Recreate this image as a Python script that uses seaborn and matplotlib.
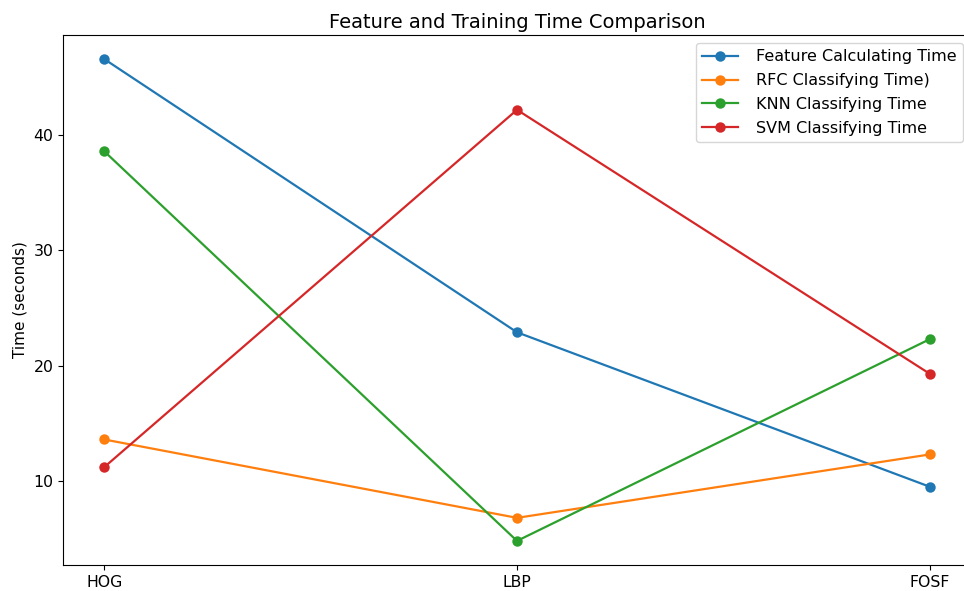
import matplotlib
matplotlib.use("Agg")
import matplotlib.pyplot as plt
import seaborn as sns
import pandas as pd

methods = ["HOG", "LBP", "FOSF"]
feature_time = [46.6, 22.9, 9.5]
rfc_time = [13.6, 6.8, 12.3]
knn_time = [38.6, 4.8, 22.3]
svm_time = [11.2, 42.2, 19.3]
series_names = ["Feature Calculating Time", "RFC Classifying Time)",
                "KNN Classifying Time", "SVM Classifying Time"]
colors = ["#1f77b4", "#ff7f0e", "#2ca02c", "#d62728"]

rows = []
for name, vals in zip(series_names, [feature_time, rfc_time, knn_time, svm_time]):
    for m, v in zip(methods, vals):
        rows.append({"Method": m, "Time": v, "Series": name})
df = pd.DataFrame(rows)

W, H = 964, 591
fig = plt.figure(figsize=(W / 100, H / 100), dpi=100)
ax = fig.add_axes([63 / W, (H - 565) / H, (971 - 63) / W, (565 - 35) / H])

sns.lineplot(data=df, x="Method", y="Time", hue="Series", hue_order=series_names,
             palette=colors, marker="o", markersize=7.5, markeredgewidth=0,
             linewidth=1.6, ax=ax)

ax.set_xlabel("")
ax.set_ylabel("Time (seconds)", fontsize=11)
ax.set_title("Feature and Training Time Comparison", fontsize=14, pad=5)
ax.tick_params(labelsize=11.3)
ax.spines["right"].set_visible(False)
ax.legend(loc="upper right", fontsize=11.5, handlelength=2.2, handletextpad=1.15,
          labelspacing=0.55)

fig.savefig("out.png", dpi=100)
